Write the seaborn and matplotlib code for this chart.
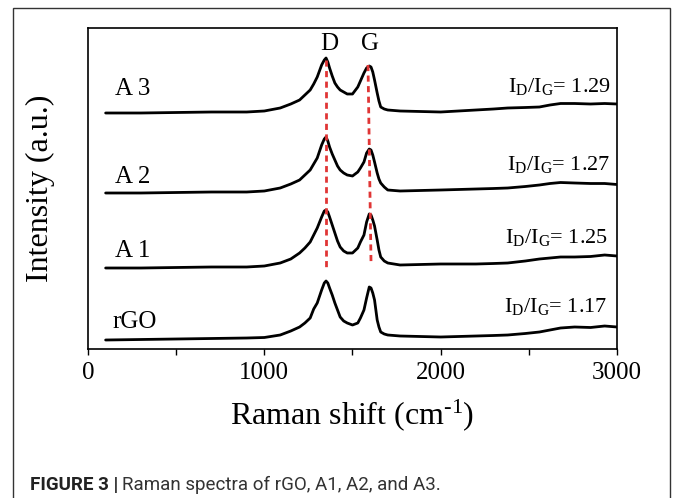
import matplotlib
matplotlib.use("Agg")
import matplotlib.pyplot as plt
import matplotlib.patches as mpatches
import seaborn as sns
import pandas as pd

# ---------------- data ----------------
shift = [100, 300, 500, 700, 900,
         1000, 1090, 1150, 1200, 1230,
         1260, 1280, 1300, 1325, 1340,
         1350, 1360, 1370, 1385, 1400,
         1415, 1430, 1450, 1470, 1500,
         1530, 1545, 1565, 1580, 1595,
         1605, 1615, 1625, 1640, 1650,
         1660, 1680, 1700, 1770, 2000,
         2200, 2300, 2380, 2480, 2560,
         2620, 2680, 2760, 2850, 2930,
         3000]

rGO = [0.09, 0.095, 0.10, 0.105, 0.11,
       0.115, 0.14, 0.18, 0.22, 0.26,
       0.31, 0.40, 0.46, 0.59, 0.66,
       0.68, 0.66, 0.61, 0.54, 0.46,
       0.39, 0.32, 0.28, 0.26, 0.24,
       0.26, 0.31, 0.39, 0.51, 0.62,
       0.61, 0.56, 0.49, 0.29, 0.22,
       0.17, 0.15, 0.14, 0.13, 0.12,
       0.13, 0.135, 0.14, 0.155, 0.17,
       0.19, 0.21, 0.22, 0.215, 0.23,
       0.22]
A1 = [0.81, 0.81, 0.815, 0.82, 0.82,
      0.83, 0.86, 0.90, 0.96, 1.01,
      1.07, 1.14, 1.21, 1.32, 1.38,
      1.39, 1.37, 1.32, 1.24, 1.16,
      1.08, 1.02, 0.98, 0.96, 0.96,
      1.01, 1.07, 1.14, 1.27, 1.35,
      1.34, 1.29, 1.23, 1.09, 0.99,
      0.92, 0.88, 0.86, 0.84, 0.85,
      0.85, 0.855, 0.86, 0.88, 0.90,
      0.91, 0.92, 0.92, 0.925, 0.94,
      0.93]
A2 = [1.56, 1.56, 1.565, 1.57, 1.57,
      1.58, 1.61, 1.65, 1.69, 1.74,
      1.79, 1.85, 1.91, 2.04, 2.10,
      2.12, 2.08, 2.02, 1.95, 1.89,
      1.83, 1.79, 1.76, 1.74, 1.73,
      1.77, 1.81, 1.87, 1.96, 2.00,
      1.99, 1.94, 1.87, 1.76, 1.70,
      1.66, 1.62, 1.59, 1.58, 1.59,
      1.60, 1.605, 1.61, 1.625, 1.64,
      1.655, 1.665, 1.66, 1.655, 1.655,
      1.645]
A3 = [2.36, 2.36, 2.365, 2.37, 2.37,
      2.38, 2.41, 2.45, 2.49, 2.54,
      2.59, 2.65, 2.72, 2.84, 2.89,
      2.91, 2.87, 2.81, 2.73, 2.66,
      2.62, 2.59, 2.57, 2.55, 2.55,
      2.62, 2.68, 2.76, 2.81, 2.83,
      2.82, 2.77, 2.69, 2.56, 2.48,
      2.42, 2.40, 2.39, 2.38, 2.37,
      2.39, 2.40, 2.41, 2.415, 2.42,
      2.44, 2.455, 2.455, 2.45, 2.455,
      2.45]

samples = ["rGO", "A 1", "A 2", "A 3"]
sample_label_x = [136, 153, 153, 153]
sample_label_y = [0.21, 0.92, 1.66, 2.54]
ratios = ["1.17", "1.25", "1.27", "1.29"]
ratio_x = [2943, 2949, 2960, 2966]
ratio_y = [0.37, 1.06, 1.79, 2.57]

# dashed guide lines for D and G bands: (x_top, y_top, x_bottom, y_bottom)
d_line = [1350, 2.89, 1350, 0.82]
g_line = [1588, 2.84, 1605, 0.87]
band_names = ["D", "G"]
band_x = [1367, 1599]

xticks_major = [0, 1000, 2000, 3000]
xticks_minor = [500, 1500, 2500]

# ---------------- figure ----------------
sns.set_style("white")
plt.rcParams["font.family"] = ["Liberation Serif", "DejaVu Serif"]
plt.rcParams["mathtext.fontset"] = "custom"
plt.rcParams["mathtext.rm"] = "Liberation Serif"
plt.rcParams["mathtext.it"] = "Liberation Serif:italic"
plt.rcParams["text.color"] = "black"
plt.rcParams["axes.labelcolor"] = "black"
plt.rcParams["xtick.color"] = "black"

W, H = 673, 498
fig = plt.figure(figsize=(W / 100, H / 100), dpi=100)
fig.patch.set_facecolor("white")

ax_l, ax_r, ax_t, ax_b = 88, 617, 28, 349
ax = fig.add_axes([ax_l / W, 1 - ax_b / H, (ax_r - ax_l) / W, (ax_b - ax_t) / H])

frames = []
for name, vals in zip(samples, [rGO, A1, A2, A3]):
    frames.append(pd.DataFrame({"shift": shift, "intensity": vals, "sample": name}))
df = pd.concat(frames, ignore_index=True)

for name in samples:
    sub = df[df["sample"] == name]
    sns.lineplot(data=sub, x="shift", y="intensity", color="black", linewidth=2.0,
                 ax=ax, legend=False, sort=False, estimator=None)

# dashed red band lines
for ln in (d_line, g_line):
    ax.plot([ln[0], ln[2]], [ln[1], ln[3]], color="#e03535", linewidth=2.0,
            linestyle=(0, (2.2, 1.6)), zorder=3)

ax.set_xlim(0, 3000)
ax.set_ylim(0, 3.21)
ax.set_xticks(xticks_major)
ax.set_xticks(xticks_minor, minor=True)
ax.set_xticklabels([str(t) for t in xticks_major])
ax.set_yticks([])
ax.tick_params(axis="x", which="both", direction="out", length=4.5, width=1.0,
               colors="black", labelsize=18, pad=5, bottom=True)
for sp in ax.spines.values():
    sp.set_visible(True)
    sp.set_color("black")
    sp.set_linewidth(1.2)

ax.set_xlabel(r"Raman shift (cm$^{\text{-1}}$)", fontsize=23)
ax.xaxis.set_label_coords(0.5, -0.15)
ax.set_ylabel("Intensity (a.u.)", fontsize=23)
ax.yaxis.set_label_coords(-0.062, 0.5)

for name, xv, yv in zip(samples, sample_label_x, sample_label_y):
    ax.text(xv, yv, name, fontsize=18, ha="left", va="baseline")

for r, xr, yr in zip(ratios, ratio_x, ratio_y):
    ax.text(xr, yr, r"I$_{\mathregular{D}}$/I$_{\mathregular{G}}$= " + r,
            fontsize=16, ha="right", va="baseline")

for b, bx in zip(band_names, band_x):
    ax.text(bx, 2.99, b, fontsize=18, ha="center", va="baseline")

# outer frame
frame = mpatches.Rectangle((13 / W, -0.05), (670 - 13) / W, 1 - 8 / H + 0.05,
                           transform=fig.transFigure, fill=False,
                           edgecolor="#333333", linewidth=1.0, clip_on=False)
fig.patches.append(frame)

# caption
cap_font = ["Liberation Sans Narrow", "Roboto", "DejaVu Sans"]
t1 = fig.text(30 / W, 1 - 490 / H, "FIGURE 3 |", fontsize=13.5, fontweight="bold",
              family=cap_font, color="#222222", ha="left", va="baseline")
fig.canvas.draw()
bb = t1.get_window_extent()
fig.text((bb.x1 + 4) / W, 1 - 490 / H, "Raman spectra of rGO, A1, A2, and A3.",
         fontsize=13.5, family=cap_font, color="#333333", ha="left", va="baseline")

fig.savefig("out.png", dpi=100, facecolor="white")
